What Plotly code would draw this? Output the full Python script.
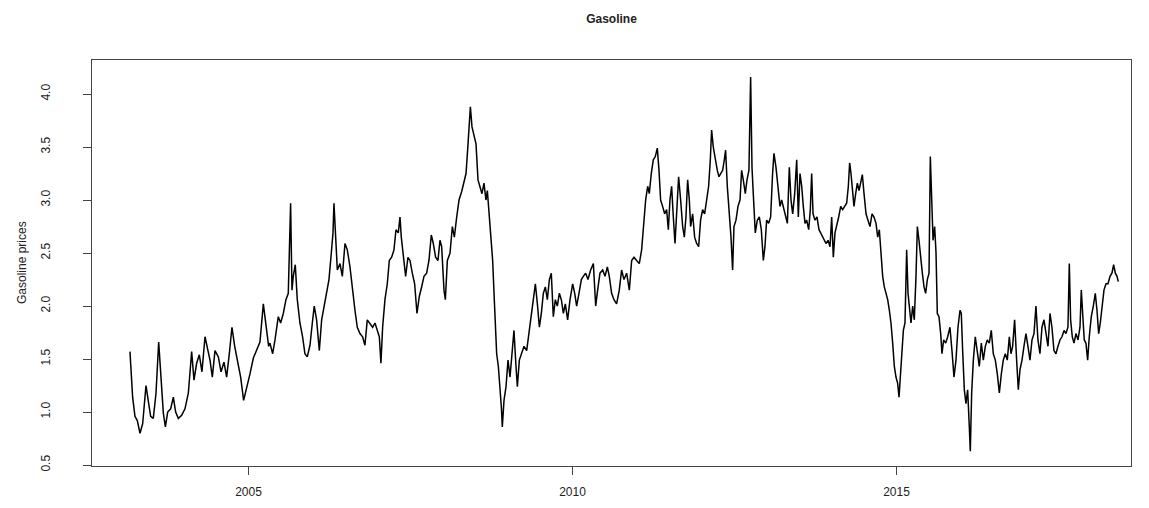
import plotly.graph_objects as go

# Decimal-year dates and gasoline prices
dates = [
    2003.171, 2003.212, 2003.248, 2003.284, 2003.326, 2003.367, 2003.418, 2003.454, 2003.490, 2003.531,
    2003.573, 2003.614, 2003.650, 2003.686, 2003.717, 2003.753, 2003.799, 2003.840, 2003.876, 2003.917,
    2003.969, 2004.020, 2004.072, 2004.123, 2004.159, 2004.200, 2004.241, 2004.282, 2004.329, 2004.365,
    2004.406, 2004.442, 2004.483, 2004.535, 2004.576, 2004.622, 2004.663, 2004.704, 2004.745, 2004.787,
    2004.833, 2004.879, 2004.925, 2004.972, 2005.023, 2005.075, 2005.126, 2005.177, 2005.229, 2005.270,
    2005.311,
    2005.331, 2005.373, 2005.409, 2005.460, 2005.496, 2005.537, 2005.578, 2005.614, 2005.650, 2005.671,
    2005.691, 2005.722, 2005.753, 2005.794, 2005.835, 2005.871, 2005.907, 2005.949, 2005.985, 2006.015,
    2006.051, 2006.093, 2006.129, 2006.165, 2006.206, 2006.242, 2006.278, 2006.304, 2006.319, 2006.340,
    2006.371, 2006.412, 2006.448, 2006.489, 2006.525, 2006.566, 2006.607, 2006.643, 2006.679, 2006.720,
    2006.761, 2006.797, 2006.833, 2006.874, 2006.916, 2006.952, 2006.988, 2007.019, 2007.044, 2007.070,
    2007.106, 2007.142, 2007.173, 2007.209, 2007.245, 2007.276, 2007.312, 2007.338, 2007.358, 2007.389,
    2007.425, 2007.461, 2007.492, 2007.528, 2007.564, 2007.600, 2007.636, 2007.672, 2007.708, 2007.749,
    2007.785, 2007.821, 2007.852, 2007.888, 2007.924,
    2007.955, 2007.981, 2008.017, 2008.038, 2008.069, 2008.110, 2008.146, 2008.177, 2008.213, 2008.249,
    2008.290, 2008.326, 2008.357, 2008.388, 2008.408, 2008.424, 2008.449, 2008.480, 2008.511, 2008.542,
    2008.573, 2008.603, 2008.634, 2008.665, 2008.686, 2008.717, 2008.742, 2008.768, 2008.789, 2008.809,
    2008.830, 2008.856, 2008.881, 2008.902, 2008.917, 2008.943, 2008.974, 2009.005, 2009.036, 2009.067,
    2009.097, 2009.128, 2009.149, 2009.180, 2009.216, 2009.252, 2009.293, 2009.329, 2009.365, 2009.396,
    2009.427, 2009.458, 2009.489, 2009.519, 2009.550, 2009.581, 2009.612, 2009.643, 2009.673, 2009.704,
    2009.735, 2009.766, 2009.797, 2009.828, 2009.859, 2009.889, 2009.925, 2009.962, 2010.003, 2010.034,
    2010.064, 2010.100, 2010.137, 2010.167, 2010.203, 2010.239, 2010.280, 2010.322, 2010.358, 2010.388,
    2010.424, 2010.466, 2010.502, 2010.538,
    2010.568, 2010.604, 2010.640, 2010.681, 2010.722, 2010.758, 2010.794, 2010.836, 2010.877, 2010.913,
    2010.949, 2010.990, 2011.031, 2011.067, 2011.093, 2011.129, 2011.160, 2011.185, 2011.216, 2011.247,
    2011.278, 2011.309, 2011.335, 2011.360, 2011.391, 2011.422, 2011.453, 2011.479, 2011.504, 2011.530,
    2011.556, 2011.582, 2011.607, 2011.638, 2011.669, 2011.700, 2011.726, 2011.751, 2011.777, 2011.803,
    2011.823, 2011.854, 2011.885, 2011.916, 2011.947, 2011.977, 2012.008, 2012.039, 2012.070, 2012.101,
    2012.127, 2012.147, 2012.173, 2012.204, 2012.235, 2012.260, 2012.291, 2012.317, 2012.343, 2012.363,
    2012.389, 2012.420, 2012.446, 2012.471, 2012.492, 2012.523, 2012.554, 2012.585, 2012.610, 2012.636,
    2012.667, 2012.693, 2012.723, 2012.749, 2012.770, 2012.790, 2012.821, 2012.852, 2012.883, 2012.914,
    2012.945, 2012.970, 2012.996, 2013.027, 2013.058, 2013.088, 2013.109, 2013.140, 2013.171, 2013.202,
    2013.228, 2013.264, 2013.295, 2013.316, 2013.346, 2013.372, 2013.398, 2013.429, 2013.460, 2013.485,
    2013.511, 2013.537, 2013.562, 2013.588, 2013.614, 2013.645, 2013.670, 2013.691, 2013.712, 2013.742,
    2013.773, 2013.804, 2013.830, 2013.861, 2013.886, 2013.912, 2013.943, 2013.974, 2014.000, 2014.025,
    2014.051, 2014.077, 2014.108, 2014.139, 2014.169, 2014.200, 2014.231, 2014.257, 2014.277, 2014.298,
    2014.319, 2014.344, 2014.370, 2014.396, 2014.422, 2014.447, 2014.473, 2014.499, 2014.530, 2014.560,
    2014.591, 2014.622, 2014.653, 2014.684, 2014.710, 2014.735, 2014.761, 2014.787, 2014.812, 2014.838,
    2014.864, 2014.890, 2014.915, 2014.941, 2014.967, 2014.992, 2015.018, 2015.039, 2015.059, 2015.085,
    2015.106, 2015.131, 2015.157, 2015.178, 2015.198, 2015.224, 2015.250, 2015.275, 2015.301, 2015.322,
    2015.347, 2015.373, 2015.399, 2015.425, 2015.450, 2015.476, 2015.502, 2015.522, 2015.543, 2015.564,
    2015.589, 2015.610, 2015.630, 2015.656, 2015.682, 2015.702, 2015.728, 2015.759, 2015.790,
    2015.825, 2015.856, 2015.887, 2015.918, 2015.949, 2015.980, 2016.000, 2016.021, 2016.047, 2016.072,
    2016.098, 2016.124, 2016.139, 2016.160, 2016.186, 2016.216, 2016.247, 2016.278, 2016.309, 2016.340,
    2016.371, 2016.401, 2016.432, 2016.463, 2016.494, 2016.525, 2016.556, 2016.587, 2016.618, 2016.648,
    2016.679, 2016.710, 2016.741, 2016.767, 2016.792, 2016.823, 2016.854, 2016.880, 2016.906, 2016.937,
    2016.967, 2016.998, 2017.029, 2017.060, 2017.091, 2017.122, 2017.152, 2017.183, 2017.214, 2017.245,
    2017.276, 2017.307, 2017.338, 2017.369, 2017.399, 2017.430, 2017.461, 2017.492, 2017.523, 2017.554,
    2017.585, 2017.615, 2017.646, 2017.667, 2017.687, 2017.713, 2017.739, 2017.770, 2017.801, 2017.832,
    2017.852, 2017.873, 2017.898, 2017.924, 2017.950, 2017.975, 2018.006, 2018.037, 2018.068, 2018.094,
    2018.120, 2018.145, 2018.171, 2018.202, 2018.233, 2018.264, 2018.295, 2018.325, 2018.351, 2018.377,
    2018.403, 2018.423,
]

prices = [
    1.57, 1.14, 0.96, 0.92, 0.80, 0.89, 1.25, 1.08, 0.96, 0.94,
    1.18, 1.66, 1.30, 0.99, 0.86, 1.00, 1.03, 1.14, 1.00, 0.94,
    0.97, 1.03, 1.18, 1.57, 1.30, 1.46, 1.54, 1.38, 1.71, 1.62,
    1.49, 1.33, 1.58, 1.52, 1.38, 1.47, 1.33, 1.55, 1.80, 1.62,
    1.49, 1.33, 1.11, 1.22, 1.36, 1.51, 1.58, 1.66, 2.02, 1.84,
    1.62,
    1.65, 1.55, 1.68, 1.90, 1.84, 1.93, 2.06, 2.12, 2.97, 2.15,
    2.28, 2.39, 2.06, 1.84, 1.71, 1.55, 1.52, 1.63, 1.84, 2.00,
    1.87, 1.58, 1.87, 2.00, 2.12, 2.25, 2.50, 2.69, 2.97, 2.69,
    2.34, 2.40, 2.28, 2.59, 2.53, 2.37, 2.12, 1.96, 1.80, 1.74,
    1.71, 1.63, 1.87, 1.84, 1.80, 1.84, 1.77, 1.71, 1.46, 1.80,
    2.06, 2.21, 2.43, 2.46, 2.53, 2.72, 2.69, 2.84, 2.65, 2.50,
    2.28, 2.46, 2.43, 2.31, 2.21, 1.93, 2.09, 2.18, 2.28, 2.31,
    2.43, 2.67, 2.59, 2.46, 2.43,
    2.62, 2.56, 2.15, 2.06, 2.43, 2.50, 2.75, 2.65, 2.84, 3.00,
    3.08, 3.16, 3.25, 3.53, 3.69, 3.88, 3.69, 3.60, 3.53, 3.19,
    3.13, 3.06, 3.16, 3.00, 3.09, 2.87, 2.62, 2.43, 2.12, 1.80,
    1.55, 1.43, 1.24, 1.05, 0.86, 1.11, 1.24, 1.49, 1.33, 1.55,
    1.77, 1.43, 1.24, 1.49, 1.55, 1.62, 1.58, 1.74, 1.90, 2.06,
    2.21, 2.02, 1.80, 1.93, 2.12, 2.18, 2.06, 2.25, 2.31, 1.90,
    2.06, 2.00, 2.12, 2.06, 1.93, 2.02, 1.87, 2.06, 2.21, 2.12,
    2.00, 2.12, 2.25, 2.28, 2.31, 2.25, 2.34, 2.40, 2.00, 2.15,
    2.31, 2.34, 2.28, 2.37,
    2.28, 2.12, 2.06, 2.02, 2.15, 2.34, 2.25, 2.31, 2.15, 2.43,
    2.46, 2.43, 2.40, 2.53, 2.72, 3.00, 3.13, 3.06, 3.25, 3.38,
    3.41, 3.49, 3.28, 3.00, 2.94, 2.87, 2.91, 2.72, 3.00, 3.13,
    2.84, 2.59, 2.87, 3.22, 3.00, 2.75, 2.65, 2.84, 3.19, 3.00,
    2.75, 2.87, 2.65, 2.59, 2.56, 2.81, 2.91, 2.87, 3.00, 3.13,
    3.38, 3.66, 3.50, 3.38, 3.28, 3.22, 3.25, 3.28, 3.38, 3.47,
    3.13, 2.91, 2.65, 2.34, 2.75, 2.81, 2.94, 3.00, 3.28, 3.19,
    3.06, 3.19, 3.28, 4.16, 3.31, 3.06, 2.69, 2.81, 2.84, 2.72,
    2.43, 2.56, 2.81, 2.78, 2.84, 3.25, 3.44, 3.31, 3.13, 2.94,
    3.00, 2.91, 2.81, 2.78, 3.31, 3.00, 2.87, 3.06, 3.38, 2.84,
    3.25, 3.13, 2.94, 2.78, 2.81, 2.72, 2.91, 3.25, 2.87, 2.81,
    2.84, 2.72, 2.69, 2.65, 2.62, 2.59, 2.62, 2.56, 2.84, 2.46,
    2.69, 2.75, 2.84, 2.94, 2.91, 2.94, 2.97, 3.13, 3.35, 3.25,
    3.09, 2.94, 3.06, 3.16, 3.09, 3.16, 3.24, 3.06, 2.87, 2.81,
    2.75, 2.87, 2.84, 2.78, 2.65, 2.72, 2.46, 2.28, 2.18, 2.12,
    2.06, 1.96, 1.84, 1.65, 1.43, 1.33, 1.27, 1.14, 1.33, 1.62,
    1.77, 1.84, 2.53, 2.12, 1.96, 1.84, 2.00, 1.87, 2.28, 2.75,
    2.62, 2.43, 2.31, 2.18, 2.12, 2.25, 2.31, 3.41, 2.94, 2.62,
    2.75, 2.50, 1.93, 1.90, 1.74, 1.55, 1.68, 1.65, 1.71,
    1.80, 1.58, 1.33, 1.49, 1.80, 1.96, 1.93, 1.58, 1.21, 1.08,
    1.21, 0.86, 0.63, 1.18, 1.49, 1.71, 1.58, 1.43, 1.65, 1.49,
    1.62, 1.68, 1.65, 1.77, 1.55, 1.49, 1.36, 1.18, 1.36, 1.49,
    1.55, 1.49, 1.71, 1.55, 1.62, 1.87, 1.49, 1.21, 1.40, 1.49,
    1.62, 1.74, 1.62, 1.49, 1.68, 1.74, 2.00, 1.68, 1.55, 1.80,
    1.87, 1.74, 1.62, 1.93, 1.80, 1.58, 1.55, 1.62, 1.68, 1.71,
    1.77, 1.74, 1.80, 2.40, 1.87, 1.71, 1.65, 1.74, 1.68, 1.80,
    2.15, 1.93, 1.68, 1.65, 1.49, 1.71, 1.90, 2.00, 2.12, 1.96,
    1.74, 1.84, 2.00, 2.15, 2.21, 2.21, 2.28, 2.31, 2.39, 2.31,
    2.28, 2.23,
]

x_ticks = [2005, 2010, 2015]
y_ticks = [0.5, 1.0, 1.5, 2.0, 2.5, 3.0, 3.5, 4.0]
y_tick_labels = ["0.5", "1.0", "1.5", "2.0", "2.5", "3.0", "3.5", "4.0"]

FONT = "Liberation Sans, Arial, sans-serif"
INK = "#222222"

# The page body has an 8px margin; figure size is chosen so the page fits the window.
FIG_W, FIG_H = 1133, 492

fig = go.Figure()
fig.add_trace(go.Scatter(
    x=dates, y=prices, mode="lines",
    line=dict(color="black", width=1.5),
    showlegend=False, hoverinfo="skip",
))

fig.update_layout(
    width=FIG_W, height=FIG_H, autosize=False,
    margin=dict(l=84, r=10, t=52, b=34, autoexpand=False),
    paper_bgcolor="white", plot_bgcolor="white",
    font=dict(family=FONT, size=12, color=INK),
    title=dict(text="<b>Gasoline</b>", x=603.5 / FIG_W, xanchor="center",
               y=1 - 11 / FIG_H, yanchor="middle", yref="container",
               font=dict(family=FONT, size=12, color=INK)),
    annotations=[dict(
        text="Gasoline prices", textangle=-90, showarrow=False,
        xref="paper", yref="paper", x=0, y=0.5, xanchor="center", yanchor="middle",
        xshift=-70, font=dict(family=FONT, size=12, color=INK),
    )],
)

fig.update_xaxes(
    range=[2002.585, 2018.619], tickvals=x_ticks, ticktext=[str(t) for t in x_ticks],
    automargin=False,
    showgrid=False, zeroline=False,
    showline=True, mirror=True, linecolor="#444444", linewidth=1,
    ticks="outside", ticklen=8, tickcolor="#444444", tickwidth=1,
    ticklabelstandoff=7,
)
fig.update_yaxes(
    range=[0.491, 4.321], tickvals=y_ticks, ticktext=y_tick_labels,
    tickangle=-90, automargin=False,
    showgrid=False, zeroline=False,
    showline=True, mirror=True, linecolor="#444444", linewidth=1,
    ticks="outside", ticklen=8, tickcolor="#444444", tickwidth=1,
    ticklabelstandoff=28,
)

fig.write_html("out.html")
